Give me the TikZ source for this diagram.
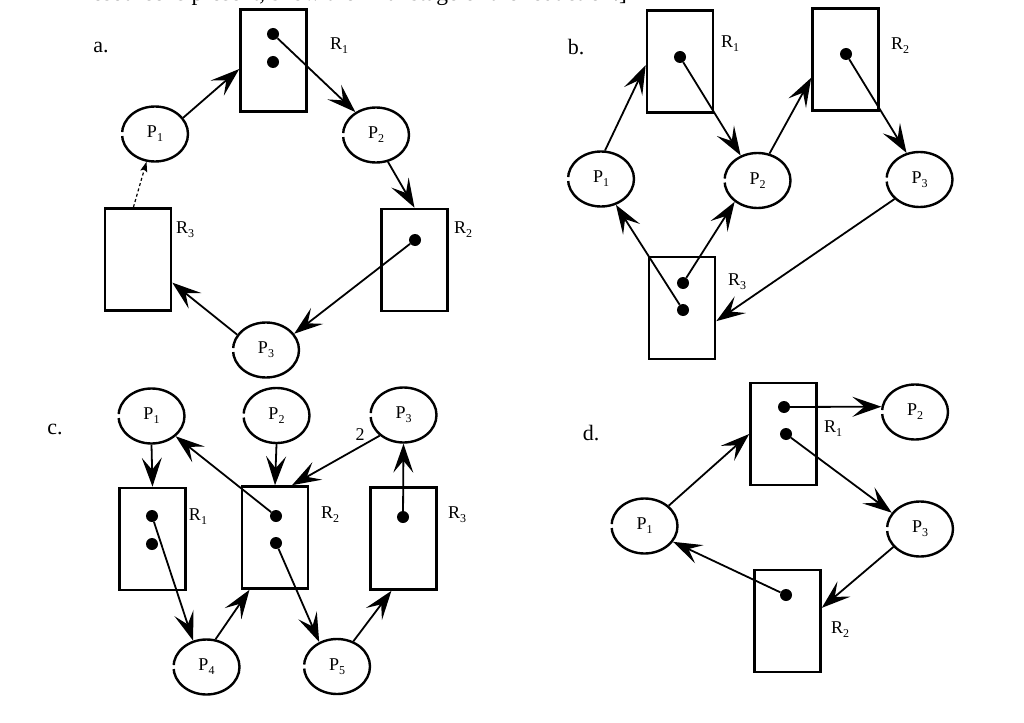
\documentclass[tikz,border=0pt]{standalone}
\usepackage{fontspec}
\setmainfont{Liberation Serif}
\usepackage{tikz}
\usetikzlibrary{arrows.meta}
\usetikzlibrary{shapes.geometric}
\newcommand{\idx}[1]{\raisebox{-0.22em}{\fontsize{12}{12}\selectfont #1}}
\tikzset{
  res/.style={draw, line width=2.6pt, minimum width=66pt, minimum height=102pt, inner sep=0pt},
  proc/.style={draw, ellipse, line width=2.4pt, minimum width=66pt, minimum height=55pt, inner sep=0pt,
    dash pattern=on 93.2pt off 4pt on 400pt off 0pt, font=\fontsize{18}{18}\selectfont},
  tok/.style={circle, fill, inner sep=0pt, minimum size=12pt},
  edge/.style={line width=1.8pt, -{Stealth[length=29pt,width=20pt,inset=12pt]}},
  pend/.style={line width=1.2pt, dash pattern=on 3pt off 2.5pt, -{Stealth[length=10pt,width=7pt,inset=2pt]}},
  tag/.style={inner sep=0pt, font=\fontsize{18}{18}\selectfont},
  panel/.style={inner sep=0pt, font=\fontsize{22}{22}\selectfont},
}

\begin{document}
\begin{tikzpicture}[x=1pt, y=-1pt]
    \path[use as bounding box, fill=white] (0,0) rectangle (1024,722);
    \node[panel, font=\fontsize{23.5}{23.5}\selectfont, anchor=base east] (note) at (627,1) {resource is present, show the final stage of the reduction.]};

    % a.
    \node[panel] (alab) at (101,47) {a.};
    \node[res] (aR1) at (273.5,60.5) {};
    \node[tok] (aR1a) at (273,34) {};
    \node[tok] (aR1b) at (273,62) {};
    \node[tag] (aR1t) at (339,46) {R\idx{1}};
    \node[proc] (aP1) at (155,134) {P\idx{1}};
    \node[proc] (aP2) at (376,135) {P\idx{2}};
    \node[res] (aR2) at (414.5,260) {};
    \node[tok] (aR2a) at (415,240) {};
    \node[tag] (aR2t) at (463,230) {R\idx{2}};
    \node[res] (aR3) at (138,259.5) {};
    \node[tag] (aR3t) at (185,230) {R\idx{3}};
    \node[proc] (aP3) at (266,350) {P\idx{3}};
    \draw[edge] (aP1.30) -- (aR1.194);
    \draw[edge] (aR1a) -- (aP2.132);
    \draw[edge] (aP2.-66) -- (aR2.north);
    \draw[edge] (aR2a) -- (aP3.30);
    \draw[edge] (aP3.152) -- (aR3.-34);
    \draw[pend] (aR3.95) -- (aP1.253);

    % b.
    \node[panel] (blab) at (576,47) {b.};
    \node[res] (bR1) at (680,61.5) {};
    \node[tok] (bR1a) at (680,57) {};
    \node[tag] (bR1t) at (730,44) {R\idx{1}};
    \node[res] (bR2) at (845.5,59.5) {};
    \node[tok] (bR2a) at (846,54) {};
    \node[tag] (bR2t) at (900,46) {R\idx{2}};
    \node[proc] (bP1) at (601,179) {P\idx{1}};
    \node[proc] (bP2) at (757.5,180.5) {P\idx{2}};
    \node[proc] (bP3) at (919.5,179.5) {P\idx{3}};
    \node[res] (bR3) at (682,308) {};
    \node[tok] (bR3a) at (683,283) {};
    \node[tok] (bR3b) at (683,310) {};
    \node[tag] (bR3t) at (737,282) {R\idx{3}};
    \draw[edge] (bP1.82) -- (bR1.186);
    \draw[edge] (bR1a) -- (bP2.124);
    \draw[edge] (bP2.66) -- (bR2.208);
    \draw[edge] (bR2a) -- (bP3.116);
    \draw[edge] (bR3b) -- (bP1.-60);
    \draw[edge] (bR3a) -- (bP2.223);
    \draw[edge] (bP3.218) -- (bR3.-21);

    % c.
    \node[panel] (clab) at (55,429) {c.};
    \node[proc] (cP1) at (151.5,416) {P\idx{1}};
    \node[proc] (cP2) at (276.5,415.5) {P\idx{2}};
    \node[proc] (cP3) at (403.5,415) {P\idx{3}};
    \node[res] (cR1) at (152.5,539) {};
    \node[tok] (cR1a) at (152,516) {};
    \node[tok] (cR1b) at (152,544) {};
    \node[tag] (cR1t) at (198,517) {R\idx{1}};
    \node[res] (cR2) at (275,537.5) {};
    \node[tok] (cR2a) at (276,516) {};
    \node[tok] (cR2b) at (276,543) {};
    \node[tag] (cR2t) at (330,515) {R\idx{2}};
    \node[res] (cR3) at (403.5,538.5) {};
    \node[tok] (cR3a) at (403,517) {};
    \node[tag] (cR3t) at (457,515) {R\idx{3}};
    \node[tag] (cmult) at (360,435) {2};
    \node[proc] (cP4) at (206.5,667) {P\idx{4}};
    \node[proc] (cP5) at (337,666.5) {P\idx{5}};
    \draw[edge] (cP1.south) -- (cR1.north);
    \draw[edge] (cR2a) -- (cP1.-40);
    \draw[edge] (cP2.south) -- (cR2.north);
    \draw[edge] (cP3.221) -- (cR2.72);
    \draw[edge] (cR3a) -- (cP3.south);
    \draw[edge] (cR1a) -- (cP4.117);
    \draw[edge] (cP4.72) -- (cR2.244);
    \draw[edge] (cR2b) -- (cP5.126);
    \draw[edge] (cP5.57) -- (cR3.257);

    % d.
    \node[panel] (dlab) at (591,433) {d.};
    \node[res] (dR1) at (783.5,434) {};
    \node[tok] (dR1a) at (784,407) {};
    \node[tok] (dR1b) at (786,434) {};
    \node[tag] (dR1t) at (833,429) {R\idx{1}};
    \node[proc] (dP2) at (915,412) {P\idx{2}};
    \node[proc] (dP1) at (644.5,526) {P\idx{1}};
    \node[proc] (dP3) at (920,529) {P\idx{3}};
    \node[res] (dR2) at (787.5,621) {};
    \node[tok] (dR2a) at (786,595) {};
    \node[tag] (dR2t) at (840,630) {R\idx{2}};
    \draw[edge] (dR1a) -- (dP2.171);
    \draw[edge] (dR1b) -- (dP3.150);
    \draw[edge] (dP1.40) -- (dR1.west);
    \draw[edge] (dP3.214) -- (dR2.21);
    \draw[edge] (dR2a) -- (dP1.-29);
\end{tikzpicture}
\end{document}
